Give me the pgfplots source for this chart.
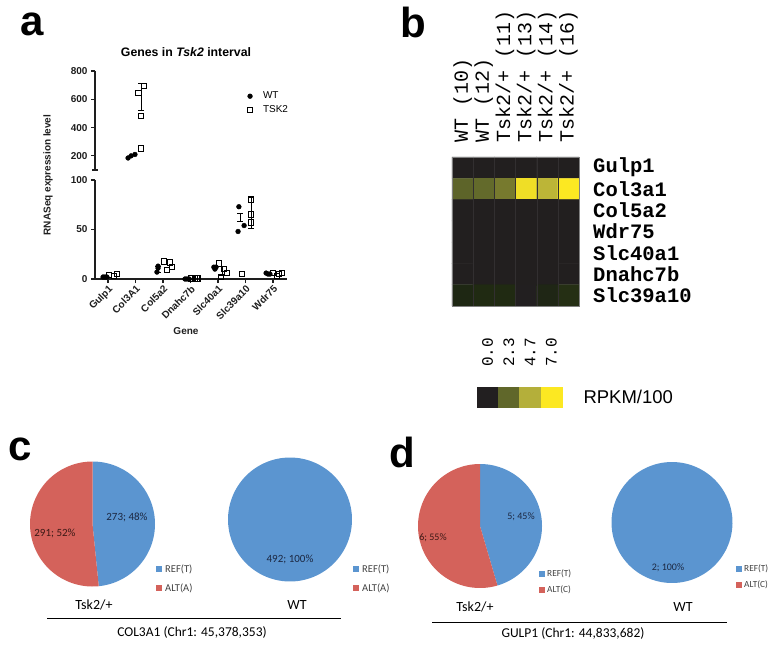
\documentclass[border=0pt]{standalone}
\usepackage{pgfplots}
\pgfplotsset{compat=1.18}
\usepgfplotslibrary{polar}
\usepackage{fontspec}
\setmainfont{Liberation Sans}
\newfontfamily\monofont{Liberation Mono}
\newfontfamily\calfont{Carlito}
\definecolor{refblue}{RGB}{91,149,208}
\definecolor{altred}{RGB}{212,98,91}
\definecolor{axgray}{RGB}{30,30,30}
\definecolor{bluetxt}{RGB}{28,40,66}
\definecolor{redtxt}{RGB}{60,25,22}
\definecolor{legtxt}{RGB}{64,64,64}
\definecolor{cellline}{RGB}{50,47,48}
\pgfplotsset{
 gp/.style={scale only axis, clip=false, tick align=outside, major tick length=4pt,
  xmin=-0.473, xmax=6.51, width=192pt, height=99pt,
  axis line style={draw=axgray, line width=1.1pt}, tick style={draw=axgray, line width=1.1pt},
  ticklabel style={font=\bfseries\fontsize{10}{11}\selectfont, text=axgray},
  /pgf/number format/assume math mode=true},
 wt/.style={only marks, mark=*, mark size=2.4pt, black},
 tsk/.style={only marks, mark=square, mark size=2.8pt, black, mark options={line width=0.9pt, fill=none}},
 eb/.style={black, line width=0.9pt, mark=-, mark size=3pt, forget plot, mark options={solid}},
 pie/.style={scale only axis, hide axis, ymin=0, ymax=1, clip=false},
 hm/.style={colormap={hmap}{rgb255(0cm)=(34,31,32) rgb255(0.4cm)=(30,40,17) rgb255(2.3cm)=(96,103,42) rgb255(4.7cm)=(180,175,58) rgb255(7cm)=(252,232,34)},
   point meta min=0, point meta max=7},
}
\tikzset{rowlab/.style={xshift=14pt, anchor=west, inner sep=0, font=\monofont\bfseries\fontsize{20.5}{22}\selectfont},
 collab/.style={yshift=14pt, rotate=90, anchor=west, inner sep=0, font=\monofont\fontsize{20}{22}\selectfont},
 cblab/.style={yshift=20pt, rotate=90, anchor=west, inner sep=0, font=\monofont\fontsize{16}{18}\selectfont},
 axl/.style={draw=axgray, line width=1.1pt}}
\pgfmathsetmacro{\cRef}{273}\pgfmathsetmacro{\cAlt}{291}
\pgfmathsetmacro{\dRef}{5}\pgfmathsetmacro{\dAlt}{6}
\pgfmathsetmacro{\cAng}{90-360*(\cRef/(\cRef+\cAlt))}
\pgfmathsetmacro{\dAng}{90-360*(\dRef/(\dRef+\dAlt))}
\begin{document}
\begin{tikzpicture}
\useasboundingbox (0,0) rectangle (778pt,-652pt);
% ---------------- panel a
\node[font=\bfseries\fontsize{42}{44}\selectfont, anchor=base] at (32pt,-36pt) {a};
\node[font=\bfseries\fontsize{12.3}{14}\selectfont] at (186pt,-52pt) {Genes in \textit{Tsk2} interval};
\node[rotate=90, font=\bfseries\fontsize{10}{12}\selectfont, color=axgray] at (48pt,-175pt) {RNASeq expression level};
\node[font=\bfseries\fontsize{10}{12}\selectfont, color=axgray] at (186pt,-331pt) {Gene};
% axis frame of the broken y axis
\draw[axl] (95pt,-180pt) -- (95pt,-279pt) -- (287pt,-279pt);
\draw[axl] (95pt,-71pt) -- (95pt,-170pt);
\draw[axl] (92pt,-170pt) -- (98pt,-170pt);
\foreach \t in {71,99.29,127.57,155.86,180,229.5,279} {\draw[axl] (91pt,-\t pt) -- (95pt,-\t pt);}
\foreach \t in {108,135.5,163,190.5,218,245.5,273} {\draw[axl] (\t pt,-279pt) -- (\t pt,-283pt);}
% lower segment
\begin{axis}[gp, at={(95pt,-279pt)}, anchor=south west,
  ymin=0, ymax=100, axis lines*=left,
  xtick={0,...,6}, xticklabels={Gulp1,Col3A1,Col5a2,Dnahc7b,Slc40a1,Slc39a10,Wdr75},
  xticklabel style={rotate=45, anchor=north east, inner sep=1pt},
  ytick={0,50,100}]
\addplot[wt] coordinates {(-0.18,2) (-0.11,2) (-0.04,2)
 (1.82,13) (1.82,11) (1.78,7)
 (2.80,0) (2.87,0) (2.95,0)
 (3.85,12) (3.89,10) (3.93,12)
 (4.73,48) (4.76,73) (4.95,54)
 (5.75,6) (5.82,5) (5.89,5)};
\addplot[tsk] coordinates {(0.04,4) (0.22,3) (0.33,5)
 (2.04,18) (2.25,17) (2.33,12) (2.15,9)
 (3.04,0.5) (3.16,0.5) (3.27,0.5) (3.22,0.5)
 (4.04,16) (4.11,2) (4.22,10) (4.33,6)
 (5.2,80) (5.2,65) (5.2,57) (4.87,5)
 (6.0,6) (6.15,3) (6.22,5) (6.33,6)};
\addplot[eb] coordinates {(4.8,58.5) (4.8,66.5)};
\addplot[eb] coordinates {(5.2,51) (5.2,83)};
\addplot[eb] coordinates {(4.15,4) (4.15,13)};
\addplot[eb] coordinates {(1.82,7) (1.82,13)};
\end{axis}
% upper segment
\begin{axis}[gp, at={(95pt,-170pt)}, anchor=south west,
  ymin=100, ymax=800, axis lines*=left, x axis line style={draw=none},
  xtick=\empty,
  ytick={200,400,600,800},
  legend image code/.code={\path[draw=none, fill=none] (-4pt,0pt) -- (11pt,0pt); \draw[#1] plot coordinates {(0pt,0pt)};},
  legend style={draw=none, fill=none, at={(rel axis cs:0.77,0.83)}, anchor=north west,
    font=\fontsize{10}{12}\selectfont, row sep=1.5pt},
  legend cell align=left]
\addplot[wt] coordinates {(0.73,185) (0.84,200) (0.98,210)};
\addlegendentry{WT}
\addplot[tsk] coordinates {(1.11,645) (1.31,694) (1.2,483) (1.2,251)};
\addlegendentry{TSK2}
\addplot[eb] coordinates {(1.2,518) (1.2,710)};
\end{axis}
% ---------------- panel b
\node[font=\bfseries\fontsize{42}{44}\selectfont, anchor=base] at (413pt,-38pt) {b};
\begin{axis}[hm, scale only axis, at={(452pt,-306pt)}, anchor=south west, width=127pt, height=149pt,
  xmin=-0.5, xmax=5.5, ymin=-0.5, ymax=6.5, y dir=reverse, hide axis, clip=false]
\addplot[matrix plot*, mesh/cols=6, point meta=explicit] table[meta=v]{
x y v
0 0 0.02
1 0 0.02
2 0 0.02
3 0 0.02
4 0 0.02
5 0 0.02
0 1 2.2
1 1 2.4
2 1 2.95
3 1 6.6
4 1 4.95
5 1 7.0
0 2 0.02
1 2 0.02
2 2 0.02
3 2 0.02
4 2 0.02
5 2 0.02
0 3 0.02
1 3 0.02
2 3 0.02
3 3 0.02
4 3 0.02
5 3 0.02
0 4 0.02
1 4 0.02
2 4 0.02
3 4 0.02
4 4 0.02
5 4 0.02
0 5 0.02
1 5 0.02
2 5 0.02
3 5 0.02
4 5 0.02
5 5 0.02
0 6 0.35
1 6 0.45
2 6 0.45
3 6 0.0
4 6 0.3
5 6 0.6
};
\pgfplotsinvokeforeach{0.5,1.5,2.5,3.5,4.5}{\draw[line width=0.3pt, cellline] (axis cs:#1,-0.5) -- (axis cs:#1,6.5);}
\draw[line width=0.4pt, gray] (axis cs:-0.5,-0.5) rectangle (axis cs:5.5,6.5);
\node[rowlab] at (axis cs:5.5,0) {Gulp1};
\node[rowlab] at (axis cs:5.5,1) {Col3a1};
\node[rowlab] at (axis cs:5.5,2) {Col5a2};
\node[rowlab] at (axis cs:5.5,3) {Wdr75};
\node[rowlab] at (axis cs:5.5,4) {Slc40a1};
\node[rowlab] at (axis cs:5.5,5) {Dnahc7b};
\node[rowlab] at (axis cs:5.5,6) {Slc39a10};
\node[collab] at (axis cs:0,-0.5) {WT (10)};
\node[collab] at (axis cs:1,-0.5) {WT (12)};
\node[collab] at (axis cs:2,-0.5) {Tsk2/+ (11)};
\node[collab] at (axis cs:3,-0.5) {Tsk2/+ (13)};
\node[collab] at (axis cs:4,-0.5) {Tsk2/+ (14)};
\node[collab] at (axis cs:5,-0.5) {Tsk2/+ (16)};
\end{axis}
% colorbar
\begin{axis}[hm, scale only axis, at={(477pt,-407pt)}, anchor=south west, width=85pt, height=20pt,
  xmin=-0.5, xmax=3.5, ymin=-0.5, ymax=1.5, hide axis, clip=false]
\addplot[matrix plot*, mesh/cols=4, point meta=explicit] table[meta=v]{
x y v
0 0 0.0
1 0 2.3
2 0 4.7
3 0 7.0
0 1 0.0
1 1 2.3
2 1 4.7
3 1 7.0
};
\node[cblab] at (axis cs:0,1.5) {0.0};
\node[cblab] at (axis cs:1,1.5) {2.3};
\node[cblab] at (axis cs:2,1.5) {4.7};
\node[cblab] at (axis cs:3,1.5) {7.0};
\end{axis}
\node[anchor=west, font=\fontsize{18.5}{20}\selectfont] at (580pt,-397pt) {RPKM/100};
% ---------------- panel c
\node[font=\bfseries\fontsize{42}{44}\selectfont, anchor=base] at (20pt,-460pt) {c};
\begin{polaraxis}[pie, at={(92.5pt,-524pt)}, anchor=center, width=125pt, height=125pt]
\addplot[fill=refblue, draw=none, domain=\cAng:90, samples=90] {1} -- (0,0) -- cycle;
\addplot[fill=altred, draw=none, domain=-270:\cAng, samples=90] {1} -- (0,0) -- cycle;
\end{polaraxis}
\begin{polaraxis}[pie, at={(290pt,-519.5pt)}, anchor=center, width=124pt, height=124pt]
\addplot[fill=refblue, draw=none, domain=-270:90, samples=120] {1} -- cycle;
\end{polaraxis}
\begin{scope}[font=\calfont\fontsize{11}{13}\selectfont]
\node[bluetxt] at (127pt,-517pt) {273; 48\%};
\node[redtxt] at (55pt,-533pt) {291; 52\%};
\node[bluetxt] at (290pt,-559pt) {492; 100\%};
\end{scope}
\begin{scope}[font=\calfont\fontsize{10.5}{12}\selectfont, legtxt]
\fill[refblue] (156pt,-566pt) rectangle ++(6pt,-6pt);
\node[anchor=west, inner sep=0] at (165pt,-569pt) {REF(T)};
\fill[altred] (156pt,-585pt) rectangle ++(6pt,-6pt);
\node[anchor=west, inner sep=0] at (165pt,-588pt) {ALT(A)};
\fill[refblue] (353pt,-566pt) rectangle ++(6pt,-6pt);
\node[anchor=west, inner sep=0] at (362pt,-569pt) {REF(T)};
\fill[altred] (353pt,-585pt) rectangle ++(6pt,-6pt);
\node[anchor=west, inner sep=0] at (362pt,-588pt) {ALT(A)};
\end{scope}
\node[font=\calfont\fontsize{14}{16}\selectfont] at (94pt,-605pt) {Tsk2/+};
\node[font=\calfont\fontsize{14}{16}\selectfont] at (297pt,-605pt) {WT};
\draw[line width=1pt] (47pt,-618pt) -- (341pt,-618pt);
\node[font=\calfont\fontsize{13.5}{16}\selectfont] at (192pt,-632pt) {COL3A1 (Chr1: 45,378,353)};
% ---------------- panel d
\node[font=\bfseries\fontsize{42}{44}\selectfont, anchor=base] at (402pt,-467pt) {d};
\begin{polaraxis}[pie, at={(480pt,-526pt)}, anchor=center, width=124pt, height=124pt]
\addplot[fill=refblue, draw=none, domain=\dAng:90, samples=90] {1} -- (0,0) -- cycle;
\addplot[fill=altred, draw=none, domain=-270:\dAng, samples=90] {1} -- (0,0) -- cycle;
\end{polaraxis}
\begin{polaraxis}[pie, at={(672pt,-522.5pt)}, anchor=center, width=121pt, height=121pt]
\addplot[fill=refblue, draw=none, domain=-270:90, samples=120] {1} -- cycle;
\end{polaraxis}
\begin{scope}[font=\calfont\fontsize{10}{12}\selectfont]
\node[bluetxt] at (521pt,-517pt) {5; 45\%};
\node[redtxt] at (433pt,-538pt) {6; 55\%};
\node[bluetxt] at (668pt,-568pt) {2; 100\%};
\end{scope}
\begin{scope}[font=\calfont\fontsize{9.3}{11}\selectfont, legtxt]
\fill[refblue] (539pt,-571pt) rectangle ++(5.5pt,-5.5pt);
\node[anchor=west, inner sep=0] at (547pt,-574pt) {REF(T)};
\fill[altred] (539pt,-587pt) rectangle ++(5.5pt,-5.5pt);
\node[anchor=west, inner sep=0] at (547pt,-590pt) {ALT(C)};
\fill[refblue] (736pt,-566pt) rectangle ++(5.5pt,-5.5pt);
\node[anchor=west, inner sep=0] at (744pt,-569pt) {REF(T)};
\fill[altred] (736pt,-582pt) rectangle ++(5.5pt,-5.5pt);
\node[anchor=west, inner sep=0] at (744pt,-585pt) {ALT(C)};
\end{scope}
\node[font=\calfont\fontsize{14}{16}\selectfont] at (475pt,-607pt) {Tsk2/+};
\node[font=\calfont\fontsize{14}{16}\selectfont] at (683pt,-607pt) {WT};
\draw[line width=1pt] (432pt,-622pt) -- (727pt,-622pt);
\node[font=\calfont\fontsize{13.5}{16}\selectfont] at (573pt,-633pt) {GULP1 (Chr1: 44,833,682)};
\end{tikzpicture}
\end{document}
